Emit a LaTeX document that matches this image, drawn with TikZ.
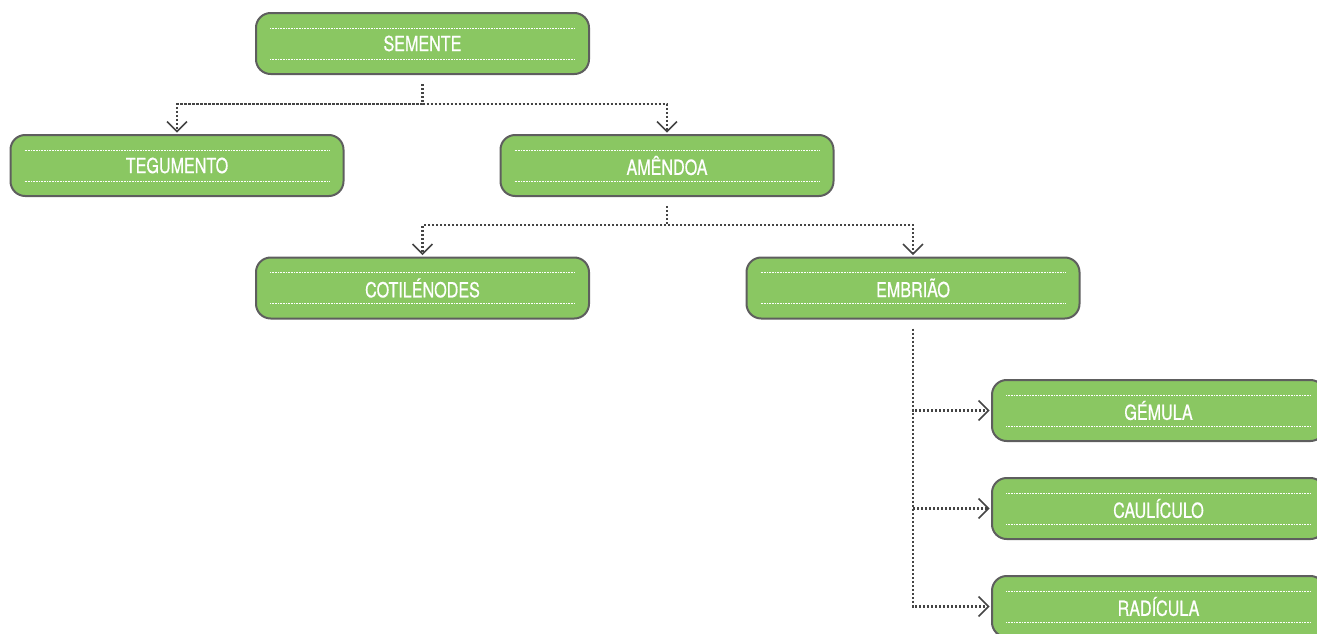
\documentclass[tikz,border=0pt]{standalone}
\usepackage{fontspec}
\setmainfont{TeX Gyre Heros}[FakeStretch=0.78,FakeBold=0.6]
\usetikzlibrary{arrows.meta,calc}
\definecolor{boxgreen}{HTML}{8AC762}
\definecolor{boxborder}{HTML}{5E5E5E}
\definecolor{conngray}{HTML}{444444}
\tikzset{
  box/.style={draw=boxborder, line width=1.5pt, fill=boxgreen, rounded corners=11pt,
    minimum width=249.75pt, minimum height=45.75pt, inner sep=0pt,
    text=white, font=\fontsize{15.5pt}{18pt}\selectfont},
  innerdot/.style={white, line width=0.5pt, dash pattern=on 0.5pt off 0.7pt},
  conn/.style={conngray, line width=1.7pt, dash pattern=on 1.6pt off 1.4pt,
    -{Straight Barb[length=7.5pt,width=15pt,line width=1.2pt]}, shorten >=1pt}
}
\begin{document}
\begin{tikzpicture}[x=0.75pt,y=-0.75pt]
\useasboundingbox (0,0) rectangle (1317,633);
\clip (0,0) rectangle (1317,633);
\node[box] (s) at (422.5,43.5) {SEMENTE};
\node[box] (t) at (177,165.5) {TEGUMENTO};
\node[box] (a) at (667,165.5) {AMÊNDOA};
\node[box] (c) at (422.5,288) {COTILÉNODES};
\node[box] (e) at (913,288) {EMBRIÃO};
\node[box] (g) at (1158.5,410.5) {GÉMULA};
\node[box] (ca) at (1158.5,508.5) {CAULÍCULO};
\node[box] (r) at (1158.5,606.5) {RADÍCULA};
\foreach \n in {s,t,a,c,e,g,ca,r}{
  \draw[innerdot] ($(\n.north west)+(15,16)$) -- ($(\n.north east)+(-15,16)$);
  \draw[innerdot] ($(\n.south west)+(15,-16)$) -- ($(\n.south east)+(-15,-16)$);
}
\draw[conn] ([yshift=-7pt]s.south) -- ++(0,20) -| (t.north);
\draw[conn] ([yshift=-7pt]s.south) -- ++(0,20) -| (a.north);
\draw[conn] ([yshift=-7pt]a.south) -- ++(0,19) -| (c.north);
\draw[conn] ([yshift=-7pt]a.south) -- ++(0,19) -| (e.north);
\draw[conn] ([yshift=-7pt]e.south) |- (g.west);
\draw[conn] ([yshift=-7pt]e.south) |- (ca.west);
\draw[conn] ([yshift=-7pt]e.south) |- (r.west);
\end{tikzpicture}
\end{document}
